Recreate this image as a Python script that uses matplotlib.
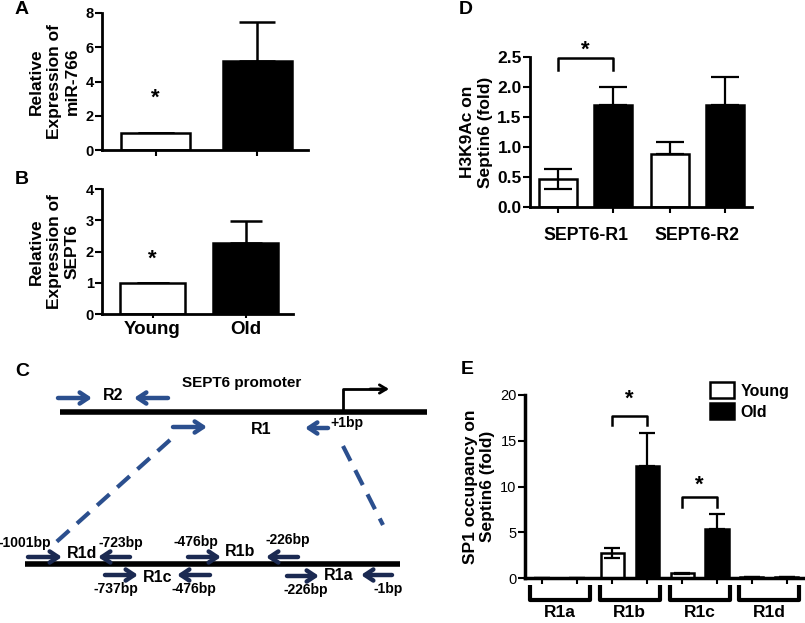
import matplotlib
matplotlib.use("Agg")
import matplotlib.pyplot as plt
import matplotlib.transforms as mtransforms
import numpy as np

plt.rcParams['font.family'] = ['Liberation Sans', 'DejaVu Sans']
plt.rcParams['font.weight'] = 'bold'

W, H = 805, 623

# ---------------- data ----------------
ab_groups = ['Young', 'Old']
a_values = [1.0, 5.2]
a_err = [0.0, 2.3]
b_values = [1.0, 2.27]
b_err = [0.0, 0.72]

d_groups = ['SEPT6-R1', 'SEPT6-R2']
d_young = [0.47, 0.88]
d_young_err_lo = [0.17, 0.0]
d_young_err_hi = [0.16, 0.20]
d_old = [1.70, 1.70]
d_old_err = [0.30, 0.47]

e_groups = ['R1a', 'R1b', 'R1c', 'R1d']
e_young = [0.0, 2.7, 0.5, 0.1]
e_young_err = [0.0, 0.55, 0.1, 0.0]
e_old = [0.0, 12.2, 5.4, 0.1]
e_old_err = [0.0, 3.7, 1.6, 0.0]

a_ticks = [0, 2, 4, 6, 8]
b_ticks = [0, 1, 2, 3, 4]
d_ticks = [0.0, 0.5, 1.0, 1.5, 2.0, 2.5]
e_ticks = [0, 5, 10, 15, 20]

fig = plt.figure(figsize=(W / 100, H / 100), dpi=100)


def add_ax(x0, x1, ytop, ybot):
    return fig.add_axes([x0 / W, 1 - ybot / H, (x1 - x0) / W, (ybot - ytop) / H])


def style(ax, lw=2.0):
    for s in ['top', 'right']:
        ax.spines[s].set_visible(False)
    for s in ['left', 'bottom']:
        ax.spines[s].set_linewidth(lw)
    ax.tick_params(axis='y', direction='out', length=5, width=1.5, pad=1)
    ax.tick_params(axis='x', direction='out', length=4, width=1.5)
    ax.patch.set_visible(False)


# ---------------- Panel A ----------------
axA = add_ax(102, 308, 13, 150)
style(axA)
xA = np.arange(len(ab_groups))
axA.bar(xA, a_values, width=0.68, color=['white', 'black'], edgecolor='black', linewidth=1.8, zorder=2)
axA.errorbar(xA, a_values, yerr=[[0, 0], a_err], fmt='none', ecolor='black', elinewidth=1.8,
             capsize=13, capthick=1.8, zorder=1)
axA.set_xlim(-0.527, 1.50)
axA.set_ylim(0, 8)
axA.set_yticks(a_ticks)
axA.set_yticklabels([str(t) for t in a_ticks], fontsize=10.5, fontweight='bold')
axA.set_xticks(xA)
axA.set_xticklabels([])
axA.text(0, 3.0, '*', ha='center', va='center', fontsize=16, fontweight='bold')
axA.set_ylabel('Relative\nExpression of\nmiR-766', fontsize=12.5, fontweight='bold', linespacing=1.25, labelpad=4)

# ---------------- Panel B ----------------
axB = add_ax(102, 293, 189, 314)
style(axB)
xB = np.arange(len(ab_groups))
axB.bar(xB, b_values, width=0.69, color=['white', 'black'], edgecolor='black', linewidth=1.8, zorder=2)
axB.errorbar(xB, b_values, yerr=[[0, 0], b_err], fmt='none', ecolor='black', elinewidth=1.8,
             capsize=11.5, capthick=1.8, zorder=1)
axB.set_xlim(-0.543, 1.51)
axB.set_ylim(0, 4)
axB.set_yticks(b_ticks)
axB.set_yticklabels([str(t) for t in b_ticks], fontsize=10.5, fontweight='bold')
axB.set_xticks(xB)
axB.set_xticklabels(ab_groups, fontsize=13.5, fontweight='bold')
axB.tick_params(axis='x', length=3, pad=2)
axB.text(0, 1.75, '*', ha='center', va='center', fontsize=16, fontweight='bold')
axB.set_ylabel('Relative\nExpression of\nSEPT6', fontsize=12.5, fontweight='bold', linespacing=1.25, labelpad=4)

# ---------------- Panel D ----------------
axD = add_ax(530, 752, 57, 207)
style(axD)
xD = np.arange(len(d_groups))
off = 0.247
bw = 0.34
axD.bar(xD - off, d_young, width=bw, color='white', edgecolor='black', linewidth=1.8, zorder=2)
axD.bar(xD + off, d_old, width=bw, color='black', edgecolor='black', linewidth=1.8, zorder=2)
axD.errorbar(xD - off, d_young, yerr=[d_young_err_lo, d_young_err_hi], fmt='none', ecolor='black',
             elinewidth=1.6, capsize=10, capthick=1.6, zorder=3)
axD.errorbar(xD + off, d_old, yerr=[[0, 0], d_old_err], fmt='none', ecolor='black',
             elinewidth=1.6, capsize=10, capthick=1.6, zorder=1)
axD.set_xlim(-0.498, 1.49)
axD.set_ylim(0, 2.5)
axD.set_yticks(d_ticks)
axD.set_yticklabels([f'{t:.1f}' for t in d_ticks], fontsize=12.5, fontweight='bold')
axD.set_xticks(np.concatenate([xD - off, xD + off]))
axD.set_xticklabels([])
trD = mtransforms.blended_transform_factory(axD.transData, axD.transAxes)
for i, g in enumerate(d_groups):
    axD.text(xD[i], -0.19, g, transform=trD, ha='center', va='center', fontsize=12.8, fontweight='bold')
axD.plot([-off, -off, off, off], [2.28, 2.48, 2.48, 2.28], color='black', lw=1.8, clip_on=False)
axD.text(0, 2.62, '*', ha='center', va='center', fontsize=16, fontweight='bold')
axD.set_ylabel('H3K9Ac on\nSeptin6 (fold)', fontsize=12.5, fontweight='bold', linespacing=1.25, labelpad=3)

# ---------------- Panel E ----------------
axE = add_ax(525, 805, 395, 578)
style(axE, lw=2.5)
xE = np.arange(len(e_groups))
offE = 0.25
bwE = 0.33
axE.bar(xE - offE, e_young, width=bwE, color='white', edgecolor='black', linewidth=1.8, zorder=2, label='Young')
axE.bar(xE + offE, e_old, width=bwE, color='black', edgecolor='black', linewidth=1.8, zorder=2, label='Old')
axE.errorbar(xE - offE, e_young, yerr=e_young_err, fmt='none', ecolor='black',
             elinewidth=1.6, capsize=6, capthick=1.6, zorder=3)
axE.errorbar(xE + offE, e_old, yerr=[[0] * 4, e_old_err], fmt='none', ecolor='black',
             elinewidth=1.6, capsize=6, capthick=1.6, zorder=1)
axE.set_xlim(-0.5, 3.51)
axE.set_ylim(0, 20)
axE.set_yticks(e_ticks)
axE.set_yticklabels([str(t) for t in e_ticks], fontsize=10.5, fontweight='normal')
axE.set_xticks(np.concatenate([xE - offE, xE + offE]))
axE.set_xticklabels([])
trE = mtransforms.blended_transform_factory(axE.transData, axE.transAxes)
for i, g in enumerate(e_groups):
    axE.plot([xE[i] - 0.43, xE[i] - 0.43, xE[i] + 0.43, xE[i] + 0.43], [-0.04, -0.12, -0.12, -0.04],
             transform=trE, color='black', lw=3, clip_on=False, solid_capstyle='butt')
    axE.text(xE[i], -0.19, g, transform=trE, ha='center', va='center', fontsize=12.5, fontweight='bold')
axE.plot([1 - offE, 1 - offE, 1 + offE, 1 + offE], [16.7, 17.7, 17.7, 16.7], color='black', lw=1.8)
axE.text(1, 19.5, '*', ha='center', va='center', fontsize=16, fontweight='bold')
axE.plot([2 - offE, 2 - offE, 2 + offE, 2 + offE], [7.8, 8.9, 8.9, 7.8], color='black', lw=1.8)
axE.text(2, 10.1, '*', ha='center', va='center', fontsize=16, fontweight='bold')
axE.set_ylabel('SP1 occupancy on\nSeptin6 (fold)', fontsize=12.5, fontweight='bold', linespacing=1.15, labelpad=4)
leg = axE.legend(loc='upper left', bbox_to_anchor=((704 - 525) / 280, 1.105), frameon=False,
                 prop={'weight': 'bold', 'size': 11.5}, handlelength=1.45, handleheight=1.15,
                 handletextpad=0.45, labelspacing=0.3, borderaxespad=0)

# ---------------- Panel C (schematic, pixel coordinates) ----------------
axC = fig.add_axes([0, 0, 1, 1])
axC.set_xlim(0, W)
axC.set_ylim(H, 0)
axC.axis('off')
axC.patch.set_visible(False)

blue = '#2B4F8E'
navy = '#1B2A52'

def arrow(x0, x1, y, color, lw=3.2):
    axC.annotate('', xy=(x1, y), xytext=(x0, y),
                 arrowprops=dict(arrowstyle='->, head_length=0.6, head_width=0.4', lw=lw,
                                 color=color, shrinkA=0, shrinkB=0))

# top promoter line
axC.plot([60, 427], [412, 412], color='black', lw=4, solid_capstyle='butt')
axC.text(242, 383, 'SEPT6 promoter', ha='center', va='center', fontsize=11, fontweight='bold')
axC.plot([343, 343, 383], [412, 389, 389], color='black', lw=2)
axC.annotate('', xy=(389, 389), xytext=(370, 389),
             arrowprops=dict(arrowstyle='->, head_length=0.5, head_width=0.3', lw=2, color='black',
                             shrinkA=0, shrinkB=0))
arrow(58, 92, 398, blue)
arrow(168, 134, 398, blue)
axC.text(113, 396, 'R2', ha='center', va='center', fontsize=11.5, fontweight='bold')
arrow(173, 207, 427, blue)
arrow(328, 305, 428, blue)
axC.text(261, 429, 'R1', ha='center', va='center', fontsize=11.5, fontweight='bold')
axC.text(347, 423, '+1bp', ha='center', va='center', fontsize=10, fontweight='bold')

# dashed zoom lines
axC.plot([170, 53], [440, 545], color=blue, lw=3, dashes=(4, 2.5))
axC.plot([343, 383], [446, 525], color=blue, lw=3, dashes=(4, 2.5))

# bottom R1 line
axC.plot([25, 400], [564, 564], color='black', lw=4, solid_capstyle='butt')

# primers above line
arrow(28, 62, 557, navy)
arrow(130, 98, 557, navy)
arrow(188, 221, 557, navy)
arrow(298, 266, 557, navy)
# primers below line
arrow(105, 138, 575, navy)
arrow(210, 177, 575, navy)
arrow(287, 319, 576, navy)
arrow(392, 361, 575, navy)

labels_top = [('-1001bp', 25, 543), ('-723bp', 121, 543), ('-476bp', 196, 542), ('-226bp', 288, 540)]
labels_bot = [('-737bp', 116, 589), ('-476bp', 194, 589), ('-226bp', 306, 590), ('-1bp', 388, 589)]
for t, x, y in labels_top + labels_bot:
    axC.text(x, y, t, ha='center', va='center', fontsize=10, fontweight='bold')
for t, x, y in [('R1d', 82, 553), ('R1b', 240, 552), ('R1c', 158, 578), ('R1a', 339, 575)]:
    axC.text(x, y, t, ha='center', va='center', fontsize=11.5, fontweight='bold')

# panel letters
for t, x, y in [('A', 22, 10), ('B', 22, 180), ('C', 22, 372), ('D', 466, 10), ('E', 467, 370)]:
    axC.text(x, y, t, ha='center', va='center', fontsize=14, fontweight='bold')

fig.savefig('out.png', dpi=100)
